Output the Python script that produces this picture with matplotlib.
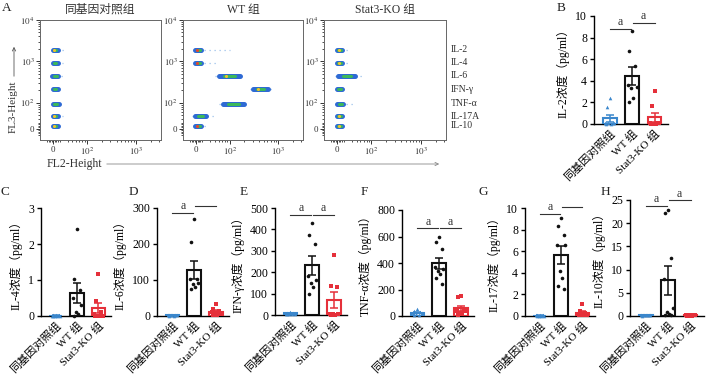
import numpy as np
import matplotlib.pyplot as plt
import matplotlib.transforms as mtransforms
from matplotlib.patches import FancyArrowPatch

plt.rcParams['font.family'] = ['Liberation Serif', 'Noto Sans CJK SC']
plt.rcParams['mathtext.fontset'] = 'stix'

W, H = 713, 374

# ---------------- data ----------------
groups = ['同基因对照组', 'WT 组', 'Stat3-KO 组']

il2_ctrl = [2.4, 1.55, 0.1, 0.08, 0.05, 0.05, 0.03, 0.02]
il2_wt = [8.6, 6.8, 5.35, 3.6, 3.45, 3.3, 2.4, 2.0]
il2_ko = [3.1, 1.7, 0.1, 0.05, 0.05, 0.03, 0.02, 0.0]

il4_ctrl = [0.03, 0.02, 0.02, 0.01, 0.01, 0.01, 0.0, 0.0]
il4_wt = [2.43, 1.04, 0.72, 0.5, 0.3, 0.1, 0.05, 0.0]
il4_ko = [1.16, 0.41, 0.1, 0.05, 0.0, 0.0, 0.0, 0.0]

il6_ctrl = [3, 2.5, 2, 2, 1.5, 1.5, 1, 1]
il6_wt = [269, 205, 104, 102, 93, 90, 81, 75]
il6_ko = [33, 20, 15, 10, 8, 5, 3, 2]

ifn_ctrl = [12, 10, 8, 7, 6, 5, 5, 4]
ifn_wt = [432, 375, 330, 180, 165, 150, 130, 97]
ifn_ko = [282, 135, 130, 5, 4, 3, 2, 1]

tnf_ctrl = [55, 40, 30, 25, 20, 15, 10, 5]
tnf_wt = [600, 555, 505, 370, 355, 340, 320, 290, 240]
tnf_ko = [150, 140, 50, 40, 35, 25, 20, 10]

il17_ctrl = [0.08, 0.06, 0.05, 0.05, 0.04, 0.03, 0.02, 0.02]
il17_wt = [9.1, 8.3, 7.5, 6.6, 6.6, 4.2, 3.5, 2.8, 2.5]
il17_ko = [1.1, 0.5, 0.3, 0.2, 0.1, 0.05, 0.05, 0.05]

il10_ctrl = [0.3, 0.3, 0.25, 0.2, 0.2, 0.2, 0.15, 0.1]
il10_wt = [22.8, 22.3, 12.5, 8.0, 1.8, 0.8, 0.5, 0.3, 0.2]
il10_ko = [0.3, 0.25, 0.2, 0.2, 0.15, 0.1, 0.1, 0.1]

# flow cytometry bead populations (FL2 / FL3 in decade units)
flow_names = ['IL-2', 'IL-4', 'IL-6', 'IFN-γ', 'TNF-α', 'IL-17A', 'IL-10']
flow_levels = [3.28, 2.97, 2.65, 2.33, 1.97, 1.67, 1.45]
ctrl_pop_x = [1.35, 1.35, 1.35, 1.35, 1.36, 1.35, 1.35]
ctrl_pop_w = [0.05, 0.05, 0.06, 0.05, 0.06, 0.05, 0.05]
ctrl_pop_peak = [2, 1, 1, 1, 1, 2, 2]
ctrl_pop_tail = [0.2, 0.1, 0.1, 0.05, 0.05, 0.1, 0.05]
wt_pop_x = [1.35, 1.35, 2.00, 2.63, 2.08, 1.40, 1.35]
wt_pop_w = [0.06, 0.06, 0.22, 0.15, 0.22, 0.12, 0.06]
wt_pop_peak = [3, 3, 2, 2, 1, 1, 3]
wt_pop_tail = [0.6, 0.3, 0.1, 0.1, 0.1, 0.2, 0.1]
ko_pop_x = [1.35, 1.35, 1.50, 1.35, 1.37, 1.35, 1.35]
ko_pop_w = [0.05, 0.05, 0.17, 0.05, 0.06, 0.05, 0.05]
ko_pop_peak = [2, 2, 1, 1, 1, 2, 2]
ko_pop_tail = [0.15, 0.15, 0.2, 0.05, 0.2, 0.05, 0.05]

flow_xmajor = [1.31, 2, 3]
flow_xlabels = ['0', '$10^2$', '$10^3$']
flow_ymajor = [1.37, 2, 3, 4]
flow_ylabels = ['0', '$10^2$', '$10^3$', '$10^4$']

colors = ['#3b87cc', '#111111', '#e5303a']
markers = ['^', 'o', 's']


def px_axes(l, t, w, h):
    return fig.add_axes([l / W, 1 - (t + h) / H, w / W, h / H])


def minor_log(lo, hi):
    out = []
    for d in range(1, 4):
        for k in range(2, 10):
            v = np.log10(k * 10 ** d)
            if lo < v < hi:
                out.append(v)
    return out


def draw_pop(ax, x, y, w, peak, tail):
    ax.plot([x - w * 1.4, x + w + tail], [y, y], color='#9cc1ea', lw=0.9, ls=(0, (1, 3)))
    ax.plot([x - w, x + w], [y, y], color='#2e6ad4', lw=3.6, solid_capstyle='round')
    if peak >= 1:
        ax.plot([x - w * 0.5, x + w * 0.5], [y, y], color='#3cb95a', lw=2.2, solid_capstyle='round')
    if peak >= 2:
        ax.plot([x - w * 0.3], [y], 'o', ms=2.2, mec='none',
                color='#f2c12e' if peak == 2 else '#e8452c')


def flow_panel(ax, title, px, pw, ppeak, ptail):
    ax.set_xlim(1.04, 3.51)
    ax.set_ylim(1.1, 4.0)
    for x, y, w, p, t in zip(px, flow_levels, pw, ppeak, ptail):
        draw_pop(ax, x, y, w, p, t)
    ax.set_xticks(flow_xmajor)
    ax.set_xticklabels(flow_xlabels)
    ax.set_yticks(flow_ymajor)
    ax.set_yticklabels(flow_ylabels)
    ax.set_xticks(minor_log(1.5, 3.51) + [1.18, 1.22, 1.25, 1.28, 1.34, 1.37, 1.4, 1.44], minor=True)
    ax.set_yticks(minor_log(1.6, 4.0) + [1.22, 1.26, 1.3, 1.33, 1.41, 1.44, 1.48, 1.52], minor=True)
    ax.tick_params(which='both', direction='out', labelsize=6.5, colors='#333333', pad=1)
    ax.tick_params(which='major', length=3, width=0.7)
    ax.tick_params(which='minor', length=1.6, width=0.6)
    for s in ax.spines.values():
        s.set_linewidth(0.7)
        s.set_color('#666666')
    ax.set_title(title, fontsize=8.5, pad=5, color='#333333')


def bar_panel(ax, data, ymax, yticks, ylabel, brackets):
    offs = [0, -0.13, 0.13, -0.2, 0.2, -0.06, 0.06, -0.15, 0.15]
    for i, vals in enumerate(data):
        vals = np.array(vals, dtype=float)
        m = vals.mean()
        se = vals.std(ddof=1) / np.sqrt(len(vals))
        ax.bar(i, m, width=0.62, facecolor='white', edgecolor=colors[i], lw=1.5, zorder=3)
        ax.errorbar(i, m, yerr=se, fmt='none', ecolor=colors[i], capsize=3,
                    elinewidth=1.1, capthick=1.1, zorder=4)
        order = np.argsort(-vals)
        xs = [i + offs[k] for k in range(len(vals))]
        ax.plot(xs, vals[order], markers[i], color=colors[i], ms=2.6, mew=0, ls='none',
                zorder=5, clip_on=False)
    for x0, x1, y in brackets:
        ax.plot([x0, x1], [y, y], color='#333333', lw=0.8, clip_on=False)
        ax.annotate('a', ((x0 + x1) / 2, y), xytext=(0, 0.5), textcoords='offset points',
                    ha='center', va='bottom', fontsize=8.5, color='#333333')
    ax.set_xlim(-0.7, 2.6)
    ax.set_ylim(0, ymax)
    ax.set_yticks(yticks)
    ax.set_xticks([0, 1, 2])
    ax.set_xticklabels(groups, rotation=45, ha='right', rotation_mode='anchor', fontsize=8)
    ax.tick_params(axis='x', length=0, pad=3)
    ax.tick_params(axis='y', direction='out', length=3, width=1, labelsize=8.5, pad=2)
    ax.spines['top'].set_visible(False)
    ax.spines['right'].set_visible(False)
    ax.spines['left'].set_linewidth(1)
    ax.spines['bottom'].set_linewidth(1)
    ax.set_ylabel(ylabel, fontsize=8.5, labelpad=4)


fig = plt.figure(figsize=(W / 100, H / 100), dpi=100)

# ---------------- panel A ----------------
ax1 = px_axes(40, 20, 121, 120)
ax2 = px_axes(183, 20, 120, 120)
ax3 = px_axes(324, 20, 122, 120)
flow_panel(ax1, '同基因对照组', ctrl_pop_x, ctrl_pop_w, ctrl_pop_peak, ctrl_pop_tail)
flow_panel(ax2, 'WT 组', wt_pop_x, wt_pop_w, wt_pop_peak, wt_pop_tail)
flow_panel(ax3, 'Stat3-KO 组', ko_pop_x, ko_pop_w, ko_pop_peak, ko_pop_tail)
trans = mtransforms.blended_transform_factory(ax3.transAxes, ax3.transData)
for name, lev in zip(flow_names, flow_levels):
    ax3.text(1.04, lev, name, transform=trans, fontsize=7, va='center', ha='left', color='#333333')

fig.text(13 / W, 1 - 107 / H, 'FL3-Height', rotation=90, ha='center', va='center', fontsize=8, color='#333333')
fig.add_artist(FancyArrowPatch(
    (14 / W, 1 - 79 / H), (14 / W, 1 - 44 / H), transform=fig.transFigure,
    arrowstyle='->', mutation_scale=6, lw=0.6, color='#555555'))
fig.text(47 / W, 1 - 164 / H, 'FL2-Height', ha='left', va='center', fontsize=8.5, color='#333333')
fig.add_artist(FancyArrowPatch(
    (104 / W, 1 - 164 / H), (442 / W, 1 - 164 / H), transform=fig.transFigure,
    arrowstyle='->', mutation_scale=6, lw=0.6, color='#888888'))

# ---------------- panels B-H ----------------
axB = px_axes(594, 16, 74, 108)
bar_panel(axB, [il2_ctrl, il2_wt, il2_ko], 10, [0, 2, 4, 6, 8, 10], 'IL-2浓度（pg/ml）',
          [(0, 0.97, 8.84), (1.03, 2.0, 9.36)])
axC = px_axes(41, 208, 70, 108)
bar_panel(axC, [il4_ctrl, il4_wt, il4_ko], 3, [0, 1, 2, 3], 'IL-4浓度（pg/ml）', [])
axD = px_axes(157, 208, 72, 108)
bar_panel(axD, [il6_ctrl, il6_wt, il6_ko], 300, [0, 100, 200, 300], 'IL-6浓度（pg/ml）',
          [(0, 0.97, 286), (1.03, 2.0, 306)])
axE = px_axes(275, 208, 72, 107)
bar_panel(axE, [ifn_ctrl, ifn_wt, ifn_ko], 500, [0, 100, 200, 300, 400, 500], 'IFN-γ浓度（pg/ml）',
          [(0, 0.97, 467), (1.03, 2.0, 467)])
axF = px_axes(402, 210, 72, 106)
bar_panel(axF, [tnf_ctrl, tnf_wt, tnf_ko], 800, [0, 200, 400, 600, 800], 'TNF-α浓度（pg/ml）',
          [(0, 0.97, 661), (1.03, 2.0, 661)])
axG = px_axes(525, 208, 70, 108)
bar_panel(axG, [il17_ctrl, il17_wt, il17_ko], 10, [0, 2, 4, 6, 8, 10], 'IL-17浓度（pg/ml）',
          [(0, 0.97, 9.45), (1.03, 2.0, 10.1)])
axH = px_axes(630, 200, 74, 116)
bar_panel(axH, [il10_ctrl, il10_wt, il10_ko], 25, [0, 5, 10, 15, 20, 25], 'IL-10浓度（pg/ml）',
          [(0, 0.97, 23.8), (1.03, 2.0, 24.9)])

for lab, x, y in [('A', 7, 8), ('B', 561, 8), ('C', 5, 192), ('D', 133, 192),
                  ('E', 244, 192), ('F', 364, 192), ('G', 483, 192), ('H', 605, 192)]:
    fig.text(x / W, 1 - y / H, lab, ha='center', va='center', fontsize=9.5, color='#222222')

fig.savefig('out.png', dpi=100)
